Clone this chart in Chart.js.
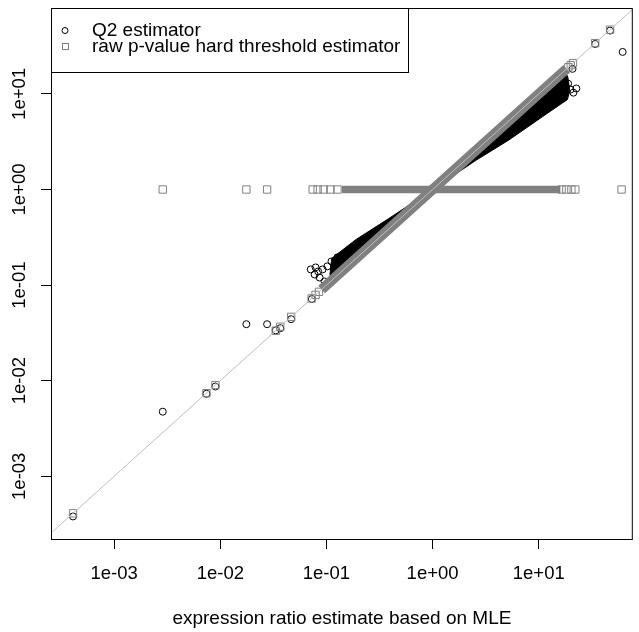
<!DOCTYPE html>
<html>
<head>
<meta charset="utf-8">
<script src="https://cdn.jsdelivr.net/npm/chart.js@4/dist/chart.umd.min.js"></script>
<style>html,body{margin:0;padding:0;background:#fff;}canvas{display:block;}</style>
</head>
<body>
<canvas id="c" width="639" height="632"></canvas>
<script>
// ---- tick labels / names ----
const xTickValues = [1e-3, 1e-2, 1e-1, 1, 10];
const xTickLabels = ["1e-03", "1e-02", "1e-01", "1e+00", "1e+01"];
const yTickValues = [1e-3, 1e-2, 1e-1, 1, 10];
const yTickLabels = ["1e-03", "1e-02", "1e-01", "1e+00", "1e+01"];
const seriesNames = ["Q2 estimator", "raw p-value hard threshold estimator"];
const xAxisTitle = "expression ratio estimate based on MLE";

// ---- Q2 estimator: individual (visible) circles ----
const q2X = [0.00041, 0.00287, 0.0074, 0.0090, 0.0176, 0.0276, 0.0333, 0.0367, 0.0465, 0.0728,
             0.0711, 0.0791, 0.0775, 0.0862, 0.092, 0.096, 0.102, 0.0835, 0.1116, 0.127, 0.118,
             12.4, 13.8, 14.4, 15.3, 16.7, 17.8, 18.9, 19.9, 21.2, 22.6, 20.8, 16.0, 34.0, 47.0, 61.7];
const q2Y = [0.00038, 0.00474, 0.0073, 0.0087, 0.039, 0.039, 0.0336, 0.0354, 0.044, 0.0715,
             0.146, 0.153, 0.129, 0.120, 0.146, 0.109, 0.157, 0.139, 0.177, 0.195, 0.152,
             9.6, 11.6, 14.3, 12.8, 10.6, 12.2, 12.8, 11.1, 10.3, 11.4, 18.3, 14.0, 33.3, 46.0, 27.5];
// Q2 estimator: outline of the dense (solid black) clouds
const q2CloudHighX = [1, 2.58, 5.24, 10.9, 16.7, 18.6, 19.6, 18.8, 17.5, 1];
const q2CloudHighY = [1, 2.03, 3.3, 5.8, 8.04, 8.7, 10.8, 15.0, 17.5, 1];
const q2CloudLowX = [1, 0.39, 0.19, 0.122, 0.112, 0.108, 0.11, 1];
const q2CloudLowY = [1, 0.50, 0.30, 0.205, 0.19, 0.13, 0.11, 1];

// ---- raw p-value hard threshold estimator: individual squares ----
const thrX = [0.00041, 0.0074, 0.0090, 0.0333, 0.0367, 0.0465, 0.0725, 0.079, 0.085, 19.0, 20.0, 21.0, 34.0, 47.0,
              0.00287, 0.0176, 0.0276, 0.0742, 0.0826, 0.094, 0.109, 0.127, 16.4, 18.2, 20.3, 22.1, 60.3];
const thrY = [0.00041, 0.0074, 0.0090, 0.0333, 0.0367, 0.0465, 0.0725, 0.079, 0.085, 19.0, 20.0, 21.0, 34.0, 47.0,
              1, 1, 1, 1, 1, 1, 1, 1, 1, 1, 1, 1, 1];
// threshold estimator: dense runs of overlapping squares
const thrDiagRunX = [0.09, 18.3];
const thrDiagRunY = [0.09, 18.3];
const thrFlatRunX = [0.14, 16.0];
const thrFlatRunY = [1, 1];

// identity reference line
const refLineX = [1e-4, 100];
const refLineY = [1e-4, 100];

const pts = (xs, ys) => xs.map((x, i) => ({x: x, y: ys[i]}));

const GRAY = '#808080';
const FONT = "'Liberation Sans', Arial, sans-serif";
Chart.defaults.font.family = FONT;

const rAxisLabels = {
  id: 'rAxisLabels',
  afterDraw(chart) {
    const ctx = chart.ctx;
    const a = chart.chartArea;
    const ys = chart.scales.y;
    ctx.save();
    // box around plot
    ctx.strokeStyle = '#000';
    ctx.lineWidth = 1;
    ctx.strokeRect(a.left + 0.5, a.top + 0.5, a.right - a.left - 1, a.bottom - a.top);
    // rotated y tick labels
    ctx.fillStyle = '#000';
    ctx.font = '18.5px ' + FONT;
    ctx.textAlign = 'center';
    ctx.textBaseline = 'middle';
    yTickValues.forEach((v, i) => {
      const py = ys.getPixelForValue(v);
      ctx.save();
      ctx.translate(20, py);
      ctx.rotate(-Math.PI / 2);
      ctx.fillText(yTickLabels[i], 0, 0);
      ctx.restore();
    });
    // legend
    ctx.fillStyle = '#fff';
    ctx.fillRect(a.left + 0.5, a.top + 0.5, 357, 64);
    ctx.strokeStyle = '#000';
    ctx.strokeRect(a.left + 0.5, a.top + 0.5, 357, 64);
    ctx.beginPath();
    ctx.arc(65, 30.5, 3, 0, Math.PI * 2);
    ctx.stroke();
    ctx.strokeStyle = GRAY;
    ctx.strokeRect(62.5, 43.5, 6, 6);
    ctx.fillStyle = '#000';
    ctx.font = '19px ' + FONT;
    ctx.textAlign = 'left';
    ctx.fillText(seriesNames[0], 92, 31);
    ctx.fillText(seriesNames[1], 92, 47);
    ctx.restore();
  }
};

new Chart(document.getElementById('c'), {
  type: 'scatter',
  data: {
    datasets: [
      { type: 'line', data: pts(refLineX, refLineY), borderColor: '#bebebe', borderWidth: 1,
        pointRadius: 0, fill: false },
      { label: seriesNames[1], data: pts(thrX, thrY), pointStyle: 'rect', pointRadius: 5.2,
        pointBorderWidth: 1, borderColor: GRAY, backgroundColor: 'rgba(0,0,0,0)' },
      { type: 'line', data: pts(thrFlatRunX, thrFlatRunY), borderColor: GRAY, borderWidth: 7.5,
        borderCapStyle: 'butt', pointRadius: 0, fill: false },
      { type: 'line', data: pts(thrDiagRunX, thrDiagRunY), borderColor: GRAY, borderWidth: 10,
        borderCapStyle: 'butt', pointRadius: 0, fill: false },
      { label: seriesNames[0], data: pts(q2X, q2Y), pointStyle: 'circle', pointRadius: 3.5,
        pointBorderWidth: 1, borderColor: '#000', backgroundColor: 'rgba(0,0,0,0)' },
      { type: 'line', data: pts(q2CloudHighX, q2CloudHighY), borderColor: '#000', backgroundColor: '#000',
        borderWidth: 1, pointRadius: 0, fill: 'shape', tension: 0 },
      { type: 'line', data: pts(q2CloudLowX, q2CloudLowY), borderColor: '#000', backgroundColor: '#000',
        borderWidth: 1, pointRadius: 0, fill: 'shape', tension: 0 }
    ]
  },
  options: {
    responsive: false,
    animation: false,
    devicePixelRatio: 1,
    layout: { padding: { top: 8, right: 1, left: 0, bottom: 0 } },
    plugins: { legend: { display: false }, tooltip: { enabled: false } },
    scales: {
      x: {
        type: 'logarithmic', min: 2.542e-4, max: 76.9,
        afterBuildTicks: s => { s.ticks = xTickValues.map(v => ({ value: v })); },
        afterFit: s => { s.height = 93; },
        border: { display: false },
        grid: { drawOnChartArea: false, drawTicks: true, tickLength: 10, color: '#000', tickColor: '#000', lineWidth: 1 },
        ticks: { autoSkip: false, minRotation: 0, maxRotation: 0, padding: 14, color: '#000',
                 font: { size: 18.5 }, callback: (v, i) => xTickLabels[i] },
        title: { display: true, text: xAxisTitle, color: '#000', font: { size: 19 }, padding: { top: 0, bottom: 2 } }
      },
      y: {
        type: 'logarithmic', min: 2.208e-4, max: 79.2,
        afterBuildTicks: s => { s.ticks = yTickValues.map(v => ({ value: v })); },
        afterFit: s => { s.width = 51; },
        border: { display: false },
        grid: { drawOnChartArea: false, drawTicks: true, tickLength: 10, color: '#000', tickColor: '#000', lineWidth: 1 },
        ticks: { display: false }
      }
    }
  },
  plugins: [rAxisLabels]
});
</script>
</body>
</html>
